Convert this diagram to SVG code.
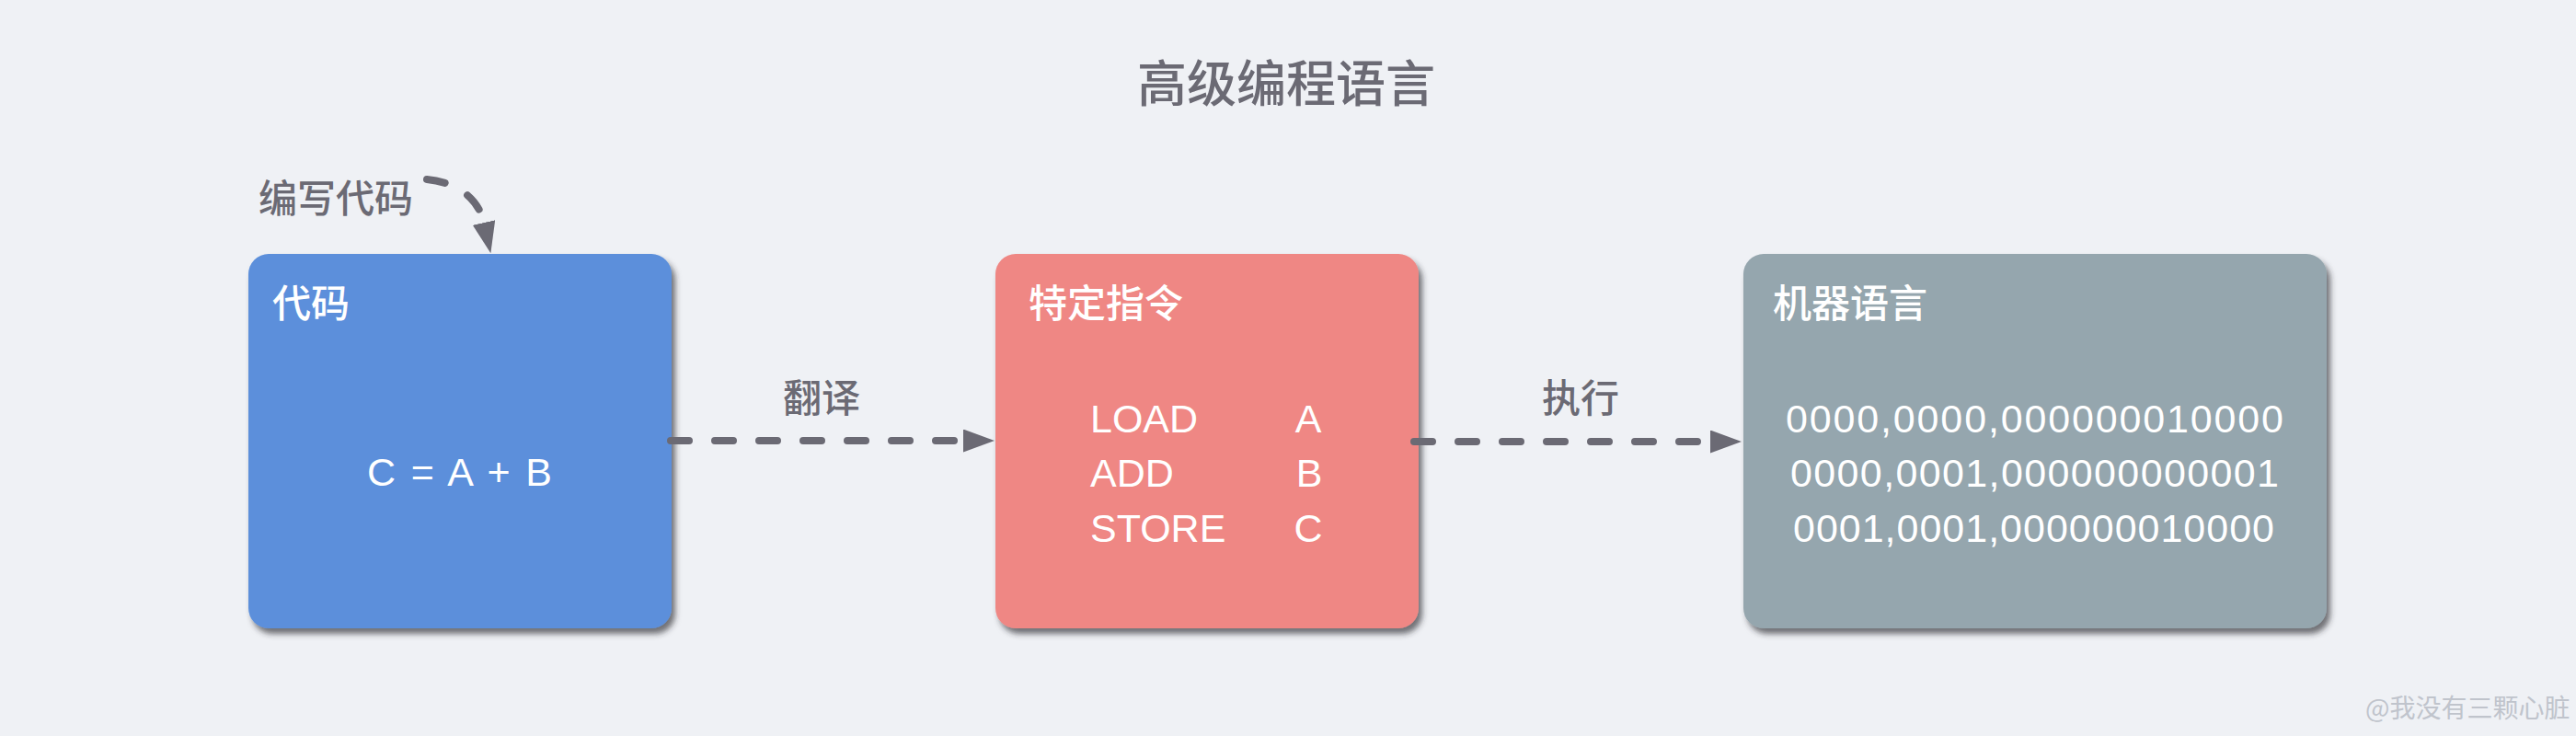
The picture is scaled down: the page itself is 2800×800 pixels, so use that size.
<svg xmlns="http://www.w3.org/2000/svg" width="2800" height="800" viewBox="0 0 2800 800">
  <style>
    .cjk { font-family: "Noto Sans CJK SC", "Liberation Sans", sans-serif; font-weight: 500; }
    .lat { font-family: "Liberation Sans", "Noto Sans CJK SC", sans-serif; }
    .dark { fill: #6b6a74; }
    .white { fill: #ffffff; }
    .conn { fill: none; stroke: #6b6a74; stroke-width: 8; stroke-linecap: round; stroke-dasharray: 20 28; }
  </style>
  <defs>
    <filter id="shadow" x="-10%" y="-10%" width="125%" height="125%">
      <feDropShadow dx="4" dy="6" stdDeviation="3" flood-color="#2a2a30" flood-opacity="0.65"/>
    </filter>
    <marker id="arrow" markerUnits="userSpaceOnUse" markerWidth="36" markerHeight="26" refX="0" refY="12.5" orient="auto" viewBox="0 0 36 26">
      <path d="M0,0 L34,12.5 L0,25 Z" fill="#6b6a74"/>
    </marker>
  </defs>
  <rect x="0" y="0" width="2800" height="800" fill="#eff1f5"/>

  <g id="title">
    <text class="cjk dark" x="1398" y="111" font-size="54" text-anchor="middle">高级编程语言</text>
  </g>

  <g id="write-label">
    <text class="cjk dark" x="281" y="231" font-size="42">编写代码</text>
  </g>

  <g id="node-code">
    <rect x="270" y="276" width="460" height="407" rx="22" ry="22" fill="#5b8fdb" filter="url(#shadow)"/>
    <text class="cjk white" x="296" y="345" font-size="42">代码</text>
    <text class="lat white" x="399" y="528" font-size="43" textLength="201" lengthAdjust="spacing">C = A + B</text>
  </g>

  <g id="node-instr">
    <rect x="1082" y="276" width="460" height="407" rx="22" ry="22" fill="#ef8784" filter="url(#shadow)"/>
    <text class="cjk white" x="1118" y="345" font-size="42">特定指令</text>
    <text class="lat white" x="1185" y="470" font-size="43">LOAD</text>
    <text class="lat white" x="1185" y="529" font-size="43">ADD</text>
    <text class="lat white" x="1185" y="589" font-size="43">STORE</text>
    <text class="lat white" x="1422" y="470" font-size="43" text-anchor="middle">A</text>
    <text class="lat white" x="1423" y="529" font-size="43" text-anchor="middle">B</text>
    <text class="lat white" x="1422" y="589" font-size="43" text-anchor="middle">C</text>
  </g>

  <g id="node-machine">
    <rect x="1895" y="276" width="634" height="407" rx="22" ry="22" fill="#95a6ae" filter="url(#shadow)"/>
    <text class="cjk white" x="1927" y="345" font-size="42">机器语言</text>
    <text class="lat white" x="1941" y="470" font-size="43" textLength="541" lengthAdjust="spacing">0000,0000,000000010000</text>
    <text class="lat white" x="1946" y="529" font-size="43" textLength="531" lengthAdjust="spacing">0000,0001,000000000001</text>
    <text class="lat white" x="1949" y="589" font-size="43" textLength="523" lengthAdjust="spacing">0001,0001,000000010000</text>
  </g>

  <g id="connectors">
    <path class="conn" d="M464,195 C496,198 520,215 526,242" marker-end="url(#arrow)"/>
    <path class="conn" d="M729,479 L1047,479" marker-end="url(#arrow)"/>
    <text class="cjk dark" x="893" y="448" font-size="42" text-anchor="middle">翻译</text>
    <path class="conn" d="M1537,480 L1859,480" marker-end="url(#arrow)"/>
    <text class="cjk dark" x="1718" y="448" font-size="42" text-anchor="middle">执行</text>
  </g>

  <g id="watermark">
    <text class="cjk" x="2571" y="780" font-size="28" fill="#c0c4cc" style="font-weight:400">@我没有三颗心脏</text>
  </g>
</svg>
